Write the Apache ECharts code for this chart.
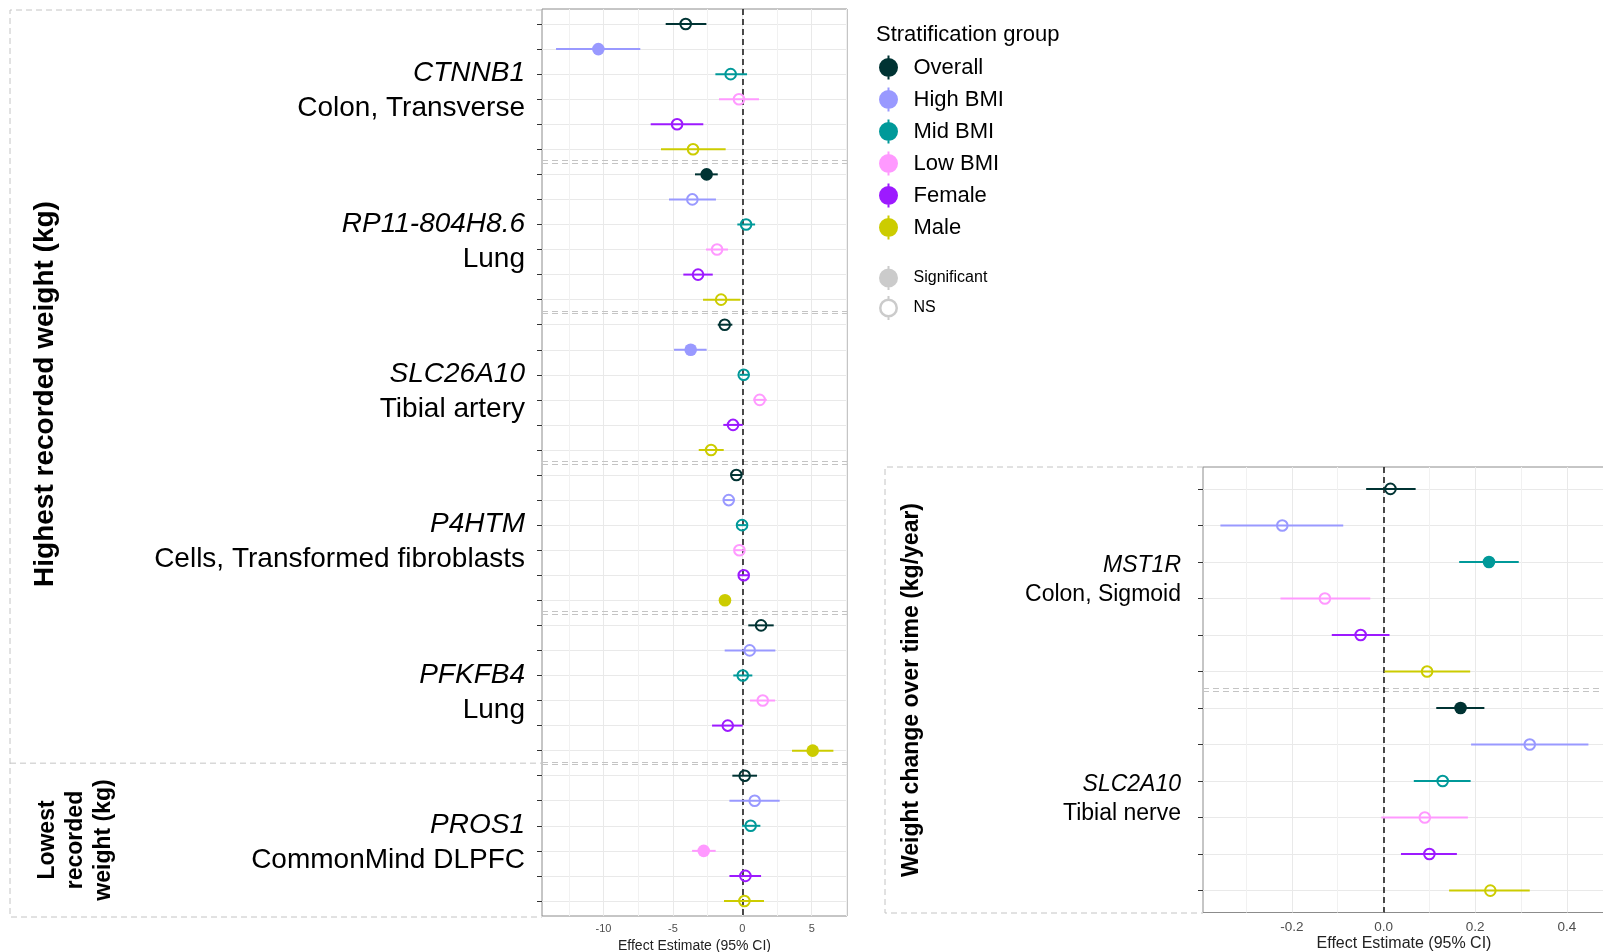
<!DOCTYPE html>
<html><head><meta charset="utf-8">
<script src="https://cdn.jsdelivr.net/npm/echarts@6/dist/echarts.min.js"></script>
<style>html,body{margin:0;padding:0;background:#fff}#c{width:1603px;height:952px}</style>
</head><body><div id="c"></div><script>
const FONT = '"Liberation Sans", Arial, Helvetica, sans-serif';

const groups = ['Overall', 'High BMI', 'Mid BMI', 'Low BMI', 'Female', 'Male'];
const groupColors = ['#003333', '#9999FF', '#009999', '#FF99FF', '#9D1AFF', '#CCCC00'];

// Left panel: Highest / Lowest recorded weight (kg)
const leftGenes = ['CTNNB1', 'RP11-804H8.6', 'SLC26A10', 'P4HTM', 'PFKFB4', 'PROS1'];
const leftTissues = ['Colon, Transverse', 'Lung', 'Tibial artery', 'Cells, Transformed fibroblasts', 'Lung', 'CommonMind DLPFC'];
// rows: gene by gene, groups in order Overall, High, Mid, Low, Female, Male
const leftEstimate = [
  -4.08, -10.37, -0.84, -0.24, -4.70, -3.55,
  -2.57, -3.60, 0.27, -1.82, -3.19, -1.53,
  -1.27, -3.72, 0.10, 1.25, -0.67, -2.25,
  -0.43, -0.98, -0.02, -0.21, 0.10, -1.25,
  1.35, 0.53, 0.03, 1.47, -1.05, 5.07,
  0.17, 0.89, 0.60, -2.78, 0.22, 0.15
];
const leftLower = [
  -5.52, -13.42, -1.94, -1.68, -6.60, -5.86,
  -3.41, -5.28, -0.36, -2.62, -4.25, -2.83,
  -1.77, -4.92, -0.20, 0.80, -1.37, -3.14,
  -0.82, -1.37, -0.36, -0.55, -0.26, -1.56,
  0.43, -1.27, -0.65, 0.55, -2.18, 3.58,
  -0.72, -0.93, -0.02, -3.62, -0.93, -1.32
];
const leftUpper = [
  -2.59, -7.35, 0.34, 1.20, -2.81, -1.20,
  -1.77, -1.90, 0.92, -1.03, -2.13, -0.14,
  -0.72, -2.57, 0.45, 1.76, 0.03, -1.34,
  -0.05, -0.60, 0.31, 0.12, 0.46, -0.94,
  2.26, 2.38, 0.72, 2.36, 0.03, 6.56,
  1.06, 2.69, 1.30, -1.92, 1.35, 1.56
];
const leftSignificant = [
  0, 1, 0, 0, 0, 0,
  1, 0, 0, 0, 0, 0,
  0, 1, 0, 0, 0, 0,
  0, 0, 0, 0, 0, 1,
  0, 0, 0, 0, 0, 1,
  0, 0, 0, 1, 0, 0
];
const leftXTicks = [-10, -5, 0, 5];
const leftXMinor = [-12.5, -7.5, -2.5, 2.5, 7.5];

// Right panel: Weight change over time (kg/year)
const rightGenes = ['MST1R', 'SLC2A10'];
const rightTissues = ['Colon, Sigmoid', 'Tibial nerve'];
const rightEstimate = [
  0.015, -0.221, 0.230, -0.128, -0.050, 0.095,
  0.168, 0.319, 0.129, 0.090, 0.100, 0.233
];
const rightLower = [
  -0.038, -0.356, 0.165, -0.225, -0.113, 0.002,
  0.115, 0.191, 0.066, -0.005, 0.038, 0.143
];
const rightUpper = [
  0.070, -0.088, 0.295, -0.029, 0.013, 0.189,
  0.220, 0.447, 0.190, 0.184, 0.160, 0.319
];
const rightSignificant = [
  0, 0, 1, 0, 0, 0,
  1, 0, 0, 0, 0, 0
];
const rightXTicks = [-0.2, 0, 0.2, 0.4];
const rightXMinor = [-0.3, -0.1, 0.1, 0.3];

// ---------- layout ----------
const G = groups.length;
const leftGrid = { left: 542, top: 9, width: 305, height: 907 };
const rightGrid = { left: 1203, top: 467, width: 402, height: 445.5 };
const leftX = { min: -14.43, max: 7.54 };
const rightX = { min: -0.394, max: 0.4832 };
const PAD = 0.6;

const rowsOf = genes => Array.from({ length: genes.length * G }, (_, i) => i);
const centersOf = genes => genes.map((_, k) => k * G + (G - 1) / 2);
const boundsOf = genes => genes.slice(1).map((_, k) => (k + 1) * G - 0.5);

const filledIcon = 'path://M9,0L11,0L11,24L9,24Z M0.5,12A9.5,9.5,0,1,1,19.5,12A9.5,9.5,0,1,1,0.5,12Z';
const hollowIcon = 'path://M9,0L11,0L11,3L9,3Z M9,21L11,21L11,24L9,24Z M0.5,12A9.5,9.5,0,1,1,19.5,12A9.5,9.5,0,1,1,0.5,12Z M3,12A7,7,0,1,0,17,12A7,7,0,1,0,3,12Z';

function renderItem(params, api) {
  const y = api.value(1);
  const c = api.coord([api.value(0), y]);
  const a = api.coord([api.value(2), y]);
  const b = api.coord([api.value(3), y]);
  const color = api.visual('color');
  const sig = api.value(4) === 1;
  return {
    type: 'group', children: [
      { type: 'rect', z2: 1, shape: { x: a[0], y: a[1] - 1, width: b[0] - a[0], height: 2 }, style: { fill: color, stroke: 'none' } },
      { type: 'circle', z2: 2, shape: { cx: c[0], cy: c[1], r: sig ? 6.3 : 5.3 },
        style: sig ? { fill: color, stroke: 'none' } : { fill: 'none', stroke: color, lineWidth: 2 } }
    ]
  };
}

function panelSeries(idx, genes, est, lo, hi, sig, minor, gridH) {
  const out = [];
  const nRows = genes.length * G;
  const pxPerRow = gridH / (nRows - 1 + 2 * PAD);
  const off = 1.2 / pxPerRow;
  const sepLines = [];
  boundsOf(genes).forEach(b => {
    sepLines.push({ yAxis: b - off, lineStyle: { color: '#c4c4c4', width: 1, type: [6, 4] } });
    sepLines.push({ yAxis: b + off, lineStyle: { color: '#c4c4c4', width: 1, type: [6, 4] } });
  });
  out.push({
    type: 'scatter', name: 'guide' + idx, xAxisIndex: idx, yAxisIndex: idx, data: [], silent: true, z: 1,
    markLine: {
      silent: true, symbol: 'none', label: { show: false }, animation: false,
      data: minor.map(v => ({ xAxis: v, lineStyle: { color: '#f1f1f1', width: 1, type: 'solid' } })).concat(sepLines)
    }
  });
  out.push({
    type: 'scatter', name: 'zero' + idx, xAxisIndex: idx, yAxisIndex: idx, data: [], silent: true, z: 2,
    markLine: {
      silent: true, symbol: 'none', label: { show: false }, animation: false,
      data: [{ xAxis: 0, lineStyle: { color: '#111', width: 1.5, type: [6, 4] } }]
    }
  });
  groups.forEach((g, gi) => {
    out.push({
      type: 'custom', name: g, xAxisIndex: idx, yAxisIndex: idx, z: 10,
      itemStyle: { color: groupColors[gi] },
      renderItem: renderItem,
      encode: { x: [0, 2, 3], y: 1 },
      data: genes.map((_, k) => { const r = k * G + gi; return [est[r], r, lo[r], hi[r], sig[r]]; })
    });
  });
  return out;
}

function yAxisFor(idx, genes, tissues, fontSize, lineHeight, margin, shift) {
  const centers = centersOf(genes);
  return {
    gridIndex: idx, type: 'value', inverse: true,
    min: -PAD, max: genes.length * G - 1 + PAD,
    axisLine: { show: false, onZero: false },
    axisTick: { show: true, length: 5, customValues: rowsOf(genes), lineStyle: { color: '#333' } },
    splitLine: { show: true, lineStyle: { color: '#e9e9e9', width: 1 } },
    axisLabel: {
      customValues: centers, margin: margin, color: '#000', padding: [shift, 0, 0, 0],
      formatter: function (v) {
        const k = centers.findIndex(c => Math.abs(c - v) < 1e-6);
        if (k < 0) return '';
        return '{g|' + genes[k] + '}\n{t|' + tissues[k] + '}';
      },
      rich: {
        g: { fontStyle: 'italic', fontSize: fontSize, lineHeight: lineHeight, fontFamily: FONT, color: '#000', align: 'right' },
        t: { fontSize: fontSize, lineHeight: lineHeight, fontFamily: FONT, color: '#000', align: 'right' }
      }
    }
  };
}

function xAxisFor(idx, ext, ticks, labelSize, nameSize, nameGap, labelMargin, fmt) {
  return {
    gridIndex: idx, type: 'value', min: ext.min, max: ext.max,
    axisLine: { show: false, onZero: false },
    axisTick: { show: false, customValues: ticks },
    splitLine: { show: true, lineStyle: { color: '#e9e9e9', width: 1 } },
    axisLabel: { customValues: ticks, color: '#4d4d4d', fontSize: labelSize, fontFamily: FONT, margin: labelMargin, formatter: fmt },
    name: 'Effect Estimate (95% CI)', nameLocation: 'middle', nameGap: nameGap,
    nameTextStyle: { color: '#222', fontSize: nameSize, fontFamily: FONT }
  };
}

const boxStyle = { stroke: '#c4c4c4', lineWidth: 1, lineDash: [6, 4], fill: 'none' };
const sepY = leftGrid.top + (boundsOf(leftGenes)[4] + PAD) * leftGrid.height / (leftGenes.length * G - 1 + 2 * PAD);
const gridBase = { show: true, borderColor: '#8c8c8c', borderWidth: 1, backgroundColor: 'transparent', outerBoundsMode: 'none', containLabel: false };

const option = {
  animation: false,
  backgroundColor: '#fff',
  textStyle: { fontFamily: FONT },
  title: {
    text: 'Stratification group', left: 871, top: 19,
    textStyle: { fontSize: 22, fontWeight: 'normal', color: '#000', fontFamily: FONT }
  },
  legend: [
    {
      orient: 'vertical', left: 874, top: 50.5, itemWidth: 40, itemHeight: 24, itemGap: 8,
      icon: filledIcon, data: groups, selectedMode: false,
      textStyle: { fontSize: 22, color: '#000', fontFamily: FONT, lineHeight: 24 }
    },
    {
      orient: 'vertical', left: 874, top: 261, itemWidth: 40, itemHeight: 24, itemGap: 6, selectedMode: false,
      data: [{ name: 'Significant', icon: filledIcon }, { name: 'NS', icon: hollowIcon }],
      textStyle: { fontSize: 16, color: '#000', fontFamily: FONT, lineHeight: 24 }
    }
  ],
  grid: [
    Object.assign({}, gridBase, leftGrid),
    Object.assign({}, gridBase, rightGrid)
  ],
  xAxis: [
    xAxisFor(0, leftX, leftXTicks, 11, 14, 20, 7, v => String(v)),
    xAxisFor(1, rightX, rightXTicks, 13.5, 16, 23, 8, v => v.toFixed(1))
  ],
  yAxis: [
    yAxisFor(0, leftGenes, leftTissues, 28, 35, 17, 9),
    yAxisFor(1, rightGenes, rightTissues, 23, 29, 22, 0)
  ],
  series: panelSeries(0, leftGenes, leftEstimate, leftLower, leftUpper, leftSignificant, leftXMinor, leftGrid.height)
    .concat(panelSeries(1, rightGenes, rightEstimate, rightLower, rightUpper, rightSignificant, rightXMinor, rightGrid.height))
    .concat([
      { type: 'scatter', name: 'Significant', data: [], itemStyle: { color: '#BEBEBE' } },
      { type: 'scatter', name: 'NS', data: [], itemStyle: { color: '#BEBEBE' } }
    ]),
  graphic: [
    { type: 'polyline', silent: true, shape: { points: [[542, 10], [10, 10], [10, 917], [542, 917]] }, style: boxStyle },
    { type: 'line', silent: true, shape: { x1: 10, y1: sepY, x2: 542, y2: sepY }, style: boxStyle },
    { type: 'polyline', silent: true, shape: { points: [[1203, 467], [885, 467], [885, 913], [1203, 913]] }, style: boxStyle },
    { type: 'text', silent: true, x: 45, y: 394, rotation: Math.PI / 2,
      style: { text: 'Highest recorded weight (kg)', font: 'bold 28px ' + FONT, fill: '#000', align: 'center', verticalAlign: 'middle' } },
    { type: 'text', silent: true, x: 76, y: 840, rotation: Math.PI / 2,
      style: { text: 'Lowest\nrecorded\nweight (kg)', font: 'bold 23px ' + FONT, fill: '#000', align: 'center', verticalAlign: 'middle', lineHeight: 28 } },
    { type: 'text', silent: true, x: 912, y: 690, rotation: Math.PI / 2,
      style: { text: 'Weight change over time (kg/year)', font: 'bold 23px ' + FONT, fill: '#000', align: 'center', verticalAlign: 'middle' } }
  ]
};

const chart = echarts.init(document.getElementById('c'), null, { renderer: 'canvas', width: 1603, height: 952 });
chart.setOption(option);
</script></body></html>
